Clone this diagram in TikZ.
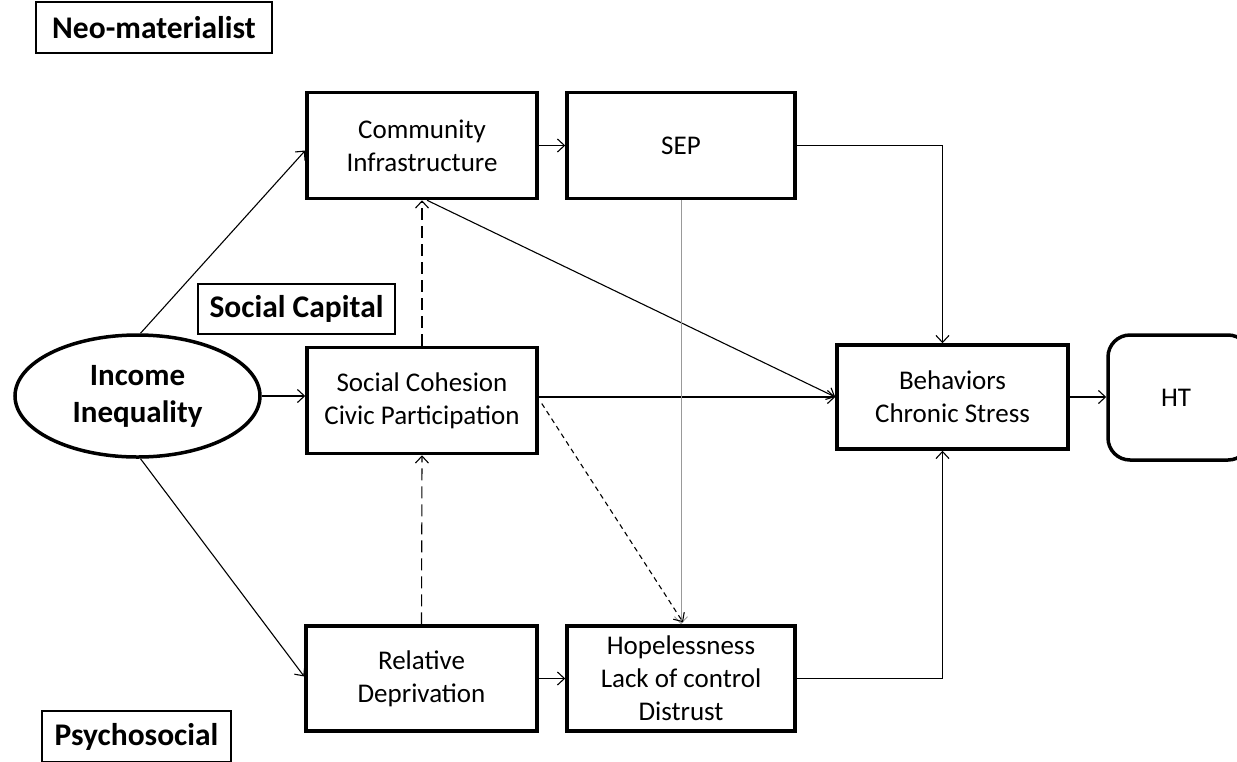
\documentclass[tikz,border=0pt]{standalone}
\usepackage{fontspec}
\setmainfont{Carlito}
\usetikzlibrary{arrows.meta,shapes.geometric,calc}
\begin{document}
\begin{tikzpicture}[x=1pt,y=-1pt,
  box/.style={draw,line width=3.5pt,minimum width=230pt,minimum height=106pt,align=center,
    font=\fontsize{27}{33}\selectfont,inner sep=0pt},
  lab/.style={draw,line width=1.5pt,align=center,font=\bfseries\fontsize{31.5}{36}\selectfont,inner sep=0pt},
  conn/.style={line width=1.1pt,-{Straight Barb[length=7pt,width=13pt]}},
  longdash/.style={dash pattern=on 12pt off 6pt},
  shortdash/.style={dash pattern=on 5pt off 4pt}]
\useasboundingbox (0,0) rectangle (1237,761);
% labels
\node[lab,minimum width=236pt,minimum height=51pt] (neo) at (154,27.5) {Neo-materialist};
\node[lab,minimum width=197pt,minimum height=50pt] (sc) at (296.5,309) {Social Capital};
\node[lab,minimum width=189pt,minimum height=51pt] (psy) at (136.5,736.5) {Psychosocial};
% main nodes
\node[draw,ellipse,line width=3.5pt,minimum width=245pt,minimum height=122pt,inner sep=0pt,align=center,
  font=\bfseries\fontsize{31}{37}\selectfont] (inc) at (137.5,396) {Income\\Inequality};
\node[box] (com) at (422,145.5) {Community\\Infrastructure};
\node[box,minimum width=228pt] (sep) at (681,145.5) {SEP};
\node[box] (coh) at (422,400.5) {Social Cohesion\\Civic Participation};
\node[box,minimum width=231pt,minimum height=105pt] (rel) at (421.5,678.5) {Relative\\Deprivation};
\node[box,minimum width=228pt,minimum height=105pt] (hop) at (681,678.5) {Hopelessness\\Lack of control\\Distrust};
\node[box,minimum width=231pt,minimum height=104pt] (beh) at (952.5,397) {Behaviors\\Chronic Stress};
\node[draw,line width=3.5pt,rounded corners=22pt,minimum width=142pt,minimum height=125pt,
  font=\fontsize{27}{33}\selectfont,inner sep=0pt] (ht) at (1179,397.5) {\hspace*{-6pt}HT};
% connectors
\draw[conn] ($(inc.north)+(3,0)$) -- ($(com.west)+(0,5)$);
\draw[conn] (inc.east) -- (inc.east -| coh.west);
\draw[conn] ($(inc.south)+(3,0)$) -- ($(rel.west)+(0,-2)$);
\draw[conn] (com.east) -- (sep.east -| sep.west);
\coordinate (bt) at ($(beh.north)+(-10,0)$);
\coordinate (bb) at ($(beh.south)+(-10,0)$);
\draw[conn] (sep.east) -- (sep.east -| bt) -- (bt);
\draw[conn] ($(com.south)+(5,0)$) -- (beh.west);
\draw[conn,longdash] (coh.north) -- (com.south);
\draw[conn] (coh.east |- beh.west) -- (beh.west);
\draw[conn,line width=0.9pt,draw=black!40] (sep.south) -- (hop.north);
\draw[conn,shortdash] ($(coh.east)+(3,3)$) -- ($(hop.north)+(2,-2)$);
\draw[conn,longdash] (rel.north) -- (coh.south);
\draw[conn] (rel.east) -- (hop.west);
\draw[conn] (hop.east) -- (hop.east -| bb) -- (bb);
\draw[conn] (beh.east) -- (beh.east -| ht.west);
\end{tikzpicture}
\end{document}
